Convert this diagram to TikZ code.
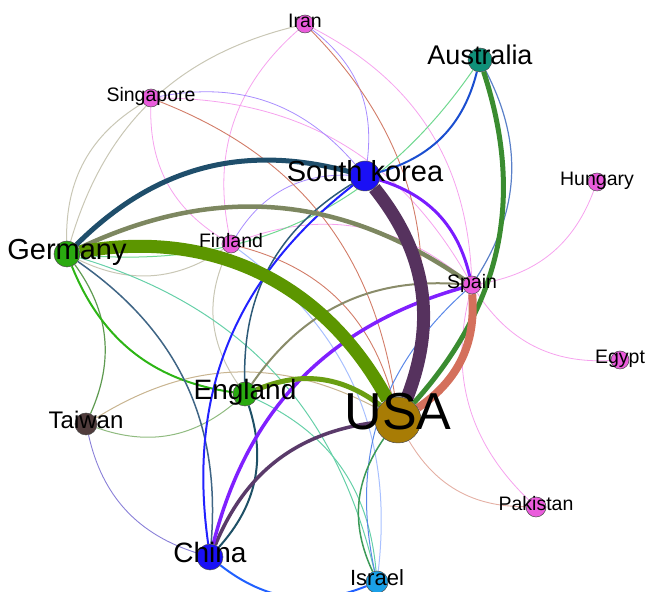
\documentclass[tikz,border=0pt]{standalone}
\usepackage{fontspec}
\setmainfont{Liberation Sans}
\usetikzlibrary{backgrounds}

\definecolor{pinknode}{HTML}{EA5CDC}
\definecolor{bluenode}{HTML}{1A10F5}
\definecolor{greennode}{HTML}{2AAA10}
\definecolor{tealnode}{HTML}{109079}
\definecolor{brownnode}{HTML}{503C3C}
\definecolor{goldnode}{HTML}{A87C05}
\definecolor{cyannode}{HTML}{1AA0E8}

\definecolor{pinkline}{HTML}{F6A2EE}
\definecolor{lilac}{HTML}{A88CFF}
\definecolor{salmon}{HTML}{D27C68}
\definecolor{beige}{HTML}{C9C7B5}

\begin{document}
\begin{tikzpicture}[x=1pt, y=1pt,
  country/.style={circle, draw=black!70, line width=0.5pt, inner sep=0pt, minimum size=#1},
  tag/.style={font=\fontsize{#1}{#1}\selectfont, inner sep=0pt, text height={0.72*#1pt}, text depth=0pt, yshift={0.18*#1pt}},
  tie/.style={bend left=#1}, tie/.default=30]
  \useasboundingbox (0,0) rectangle (646,592);

  % countries
  \node (iran) [country=18, fill=pinknode, label={[tag=19.5]center:Iran}] at (305,568) {};
  \node (australia) [country=24, fill=tealnode, label={[tag=27]center:Australia}] at (480,532) {};
  \node (singapore) [country=18, fill=pinknode, label={[tag=19.5]center:Singapore}] at (151,494) {};
  \node (skorea) [country=30, fill=bluenode, label={[tag=29]center:South korea}] at (365,416) {};
  \node (hungary) [country=18, fill=pinknode, label={[tag=19.5]center:Hungary}] at (597,410) {};
  \node (germany) [country=26, fill=greennode, label={[tag=29]center:Germany}] at (67,338) {};
  \node (finland) [country=18, fill=pinknode, label={[tag=19.5]center:Finland}] at (231,348) {};
  \node (spain) [country=18, fill=pinknode, label={[tag=19.5]center:Spain}] at (472,307) {};
  \node (egypt) [country=18, fill=pinknode, label={[tag=19.5]center:Egypt}] at (620,232) {};
  \node (england) [country=24, fill=greennode, label={[tag=28]center:England}] at (245,198) {};
  \node (taiwan) [country=22, fill=brownnode, label={[tag=24]center:Taiwan}] at (86,168) {};
  \node (usa) [country=46, fill=goldnode, label={[tag=52]center:USA}] at (398,172) {};
  \node (pakistan) [country=20, fill=pinknode, label={[tag=19.5]center:Pakistan}] at (536,85) {};
  \node (china) [country=26, fill=bluenode, label={[tag=28]center:China}] at (210,35) {};
  \node (israel) [country=22, fill=cyannode, label={[tag=22]center:Israel}] at (377,10) {};

  \begin{pgfonlayer}{background}
    % thin links
    \draw[tie, pinkline, line width=0.8pt] (finland) to (singapore);
    \draw[tie, pinkline, line width=0.8pt] (singapore) to (spain);
    \draw[tie, pinkline, line width=0.8pt] (finland) to (iran);
    \draw[tie, pinkline, line width=0.8pt] (iran) to (spain);
    \draw[tie, pinkline, line width=0.8pt] (finland) to (spain);
    \draw[tie, pinkline, line width=0.8pt] (hungary) to (spain);
    \draw[tie, pinkline, line width=0.8pt] (egypt) to (spain);
    \draw[tie, pinkline, line width=0.8pt] (pakistan) to (spain);
    \draw[tie, lilac, line width=0.8pt] (singapore) to (skorea);
    \draw[tie, lilac, line width=0.8pt] (iran) to (skorea);
    \draw[tie, lilac, line width=0.8pt] (finland) to (skorea);
    \draw[tie, salmon, line width=0.9pt] (singapore) to (usa);
    \draw[tie, salmon, line width=0.9pt] (iran) to (usa);
    \draw[tie, salmon, line width=0.9pt] (finland) to (usa);
    \draw[tie, salmon!60, line width=0.9pt] (pakistan) to (usa);
    \draw[tie, beige, line width=1pt] (germany) to (iran);
    \draw[tie, beige, line width=1pt] (germany) to (singapore);
    \draw[tie, beige, line width=1pt] (finland) to (germany);
    \draw[tie, beige, line width=1pt] (england) to (finland);
    \draw[tie, color={rgb,255:red,200;green,180;blue,144}, line width=1pt] (taiwan) to (usa);
    \draw[tie, color={rgb,255:red,144;green,187;blue,128}, line width=1pt] (england) to (taiwan);
    \draw[tie, color={rgb,255:red,138;green,128;blue,216}, line width=0.9pt] (china) to (taiwan);
    \draw[tie, color={rgb,255:red,102;green,208;blue,168}, line width=1pt] (germany) to (israel);
    \draw[tie, color={rgb,255:red,102;green,208;blue,168}, line width=1pt] (england) to (israel);
    \draw[tie, color={rgb,255:red,112;green,216;blue,144}, line width=1pt] (australia) to (germany);
    \draw[tie, color={rgb,255:red,168;green,192;blue,255}, line width=1pt] (finland) to (israel);
    \draw[tie, color={rgb,255:red,90;green,136;blue,232}, line width=1pt] (israel) to (spain);
    \draw[tie, color={rgb,255:red,90;green,128;blue,200}, line width=1.2pt] (australia) to (spain);
    \draw[tie, color={rgb,255:red,60;green,154;blue,88}, line width=1.5pt] (israel) to (usa);
    \draw[tie, color={rgb,255:red,94;green,154;blue,80}, line width=1.2pt] (germany) to (taiwan);
    \draw[tie, color={rgb,255:red,45;green,181;blue,21}, line width=2pt] (england) to (germany);
    \draw[tie, color={rgb,255:red,63;green,101;blue,133}, line width=1.5pt] (germany) to (china);
    \draw[tie, color={rgb,255:red,45;green,90;blue,120}, line width=1.5pt] (england) to (skorea);
    \draw[tie, color={rgb,255:red,30;green,80;blue,102}, line width=2pt] (england) to (china);
    \draw[tie, color={rgb,255:red,138;green,140;blue,106}, line width=2pt] (england) to (spain);
    \draw[tie, color={rgb,255:red,32;green,96;blue,255}, line width=2pt] (israel) to (china);
    \draw[tie, color={rgb,255:red,34;green,34;blue,255}, line width=2pt] (china) to (skorea);
    \draw[tie, color={rgb,255:red,26;green,78;blue,208}, line width=2pt] (australia) to (skorea);
    % heavy links
    \draw[tie, color={rgb,255:red,122;green,28;blue,255}, line width=3pt] (skorea) to (spain);
    \draw[tie, color={rgb,255:red,90;green,58;blue,106}, line width=3.5pt] (china) to (usa);
    \draw[tie, color={rgb,255:red,128;green,32;blue,255}, line width=3.5pt] (china) to (spain);
    \draw[tie, color={rgb,255:red,106;green,158;blue,18}, line width=5pt] (england) to (usa);
    \draw[tie, color={rgb,255:red,125;green,135;blue,96}, line width=4.5pt] (germany) to (spain);
    \draw[tie, color={rgb,255:red,31;green,78;blue,107}, line width=5pt] (germany) to (skorea);
    \draw[tie, color={rgb,255:red,58;green,140;blue,48}, line width=5pt] (australia) to (usa);
    \draw[tie, color={rgb,255:red,212;green,112;blue,92}, line width=8pt] (spain) to (usa);
    \draw[tie, color={rgb,255:red,86;green,50;blue,94}, line width=13pt] (skorea) to (usa);
    \draw[tie=36, color={rgb,255:red,92;green,150;blue,0}, line width=13pt] (germany) to (usa);
  \end{pgfonlayer}
\end{tikzpicture}
\end{document}
